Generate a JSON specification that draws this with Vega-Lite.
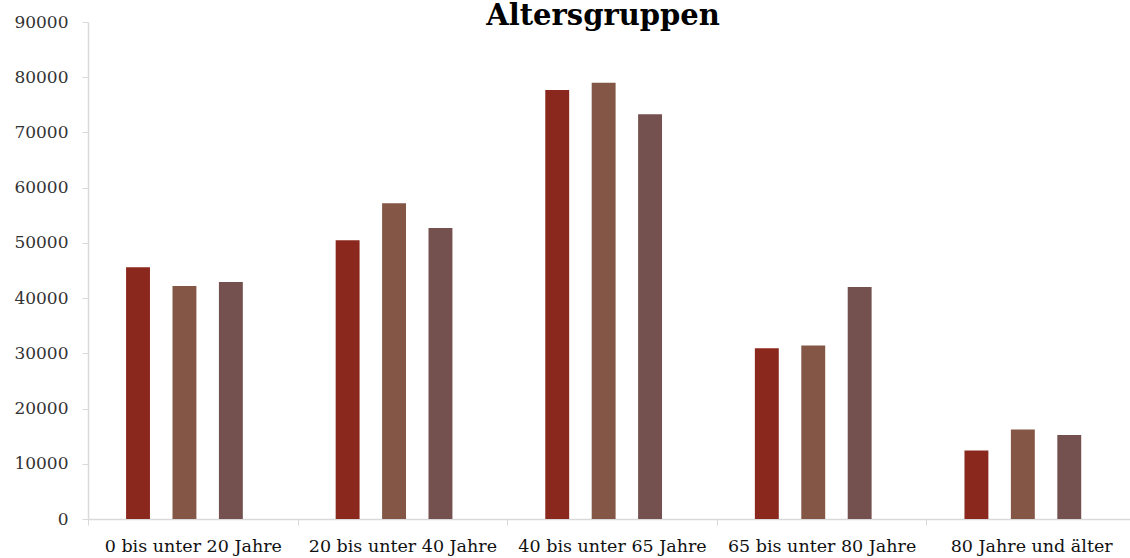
{
  "$schema": "https://vega.github.io/schema/vega-lite/v6.json",
  "width": 1042,
  "height": 497,
  "autosize": {"type": "none"},
  "padding": {"left": 88, "top": 22, "right": 0, "bottom": 39},
  "background": "white",
  "title": {
    "text": "Altersgruppen",
    "font": "DejaVu Serif",
    "fontSize": 29,
    "fontWeight": "bold",
    "color": "#000000",
    "anchor": "middle",
    "offset": 0,
    "baseline": "alphabetic",
    "dy": 41,
    "dx": -6
  },
  "data": {
    "values": [
      {"gruppe": "0 bis unter 20 Jahre", "serie": "Serie 1", "wert": 45600},
      {"gruppe": "0 bis unter 20 Jahre", "serie": "Serie 2", "wert": 42200},
      {"gruppe": "0 bis unter 20 Jahre", "serie": "Serie 3", "wert": 42900},
      {"gruppe": "20 bis unter 40 Jahre", "serie": "Serie 1", "wert": 50500},
      {"gruppe": "20 bis unter 40 Jahre", "serie": "Serie 2", "wert": 57200},
      {"gruppe": "20 bis unter 40 Jahre", "serie": "Serie 3", "wert": 52700},
      {"gruppe": "40 bis unter 65 Jahre", "serie": "Serie 1", "wert": 77700},
      {"gruppe": "40 bis unter 65 Jahre", "serie": "Serie 2", "wert": 79000},
      {"gruppe": "40 bis unter 65 Jahre", "serie": "Serie 3", "wert": 73300},
      {"gruppe": "65 bis unter 80 Jahre", "serie": "Serie 1", "wert": 30900},
      {"gruppe": "65 bis unter 80 Jahre", "serie": "Serie 2", "wert": 31400},
      {"gruppe": "65 bis unter 80 Jahre", "serie": "Serie 3", "wert": 42000},
      {"gruppe": "80 Jahre und älter", "serie": "Serie 1", "wert": 12400},
      {"gruppe": "80 Jahre und älter", "serie": "Serie 2", "wert": 16200},
      {"gruppe": "80 Jahre und älter", "serie": "Serie 3", "wert": 15200}
    ]
  },
  "mark": {"type": "bar"},
  "encoding": {
    "x": {
      "field": "gruppe",
      "type": "nominal",
      "sort": null,
      "scale": {"paddingInner": 0, "paddingOuter": 0, "range": [0, 1048]},
      "axis": {
        "title": null,
        "labelAngle": 0,
        "labelFont": "DejaVu Serif",
        "labelFontSize": 17.5,
        "labelColor": "#111111",
        "labelPadding": 12,
        "labelLimit": 0,
        "tickBand": "extent",
        "tickSize": 6,
        "tickColor": "#d9d9d9",
        "domainColor": "#d9d9d9",
        "domainWidth": 1.5,
        "labelOverlap": false
      }
    },
    "xOffset": {
      "field": "serie",
      "type": "nominal",
      "scale": {"paddingInner": 0.485, "paddingOuter": 1.14, "align": 0.41}
    },
    "y": {
      "field": "wert",
      "type": "quantitative",
      "scale": {"domain": [0, 90000], "nice": false},
      "axis": {
        "title": null,
        "values": [0, 10000, 20000, 30000, 40000, 50000, 60000, 70000, 80000, 90000],
        "format": "d",
        "grid": false,
        "labelFont": "DejaVu Serif",
        "labelFontSize": 17,
        "labelColor": "#333333",
        "labelPadding": 14,
        "tickSize": 6,
        "tickColor": "#d9d9d9",
        "domainColor": "#d9d9d9",
        "domainWidth": 1.5
      }
    },
    "color": {
      "field": "serie",
      "type": "nominal",
      "scale": {"domain": ["Serie 1", "Serie 2", "Serie 3"], "range": ["#8b281d", "#845646", "#74504f"]},
      "legend": null
    }
  },
  "config": {"view": {"stroke": null}}
}
